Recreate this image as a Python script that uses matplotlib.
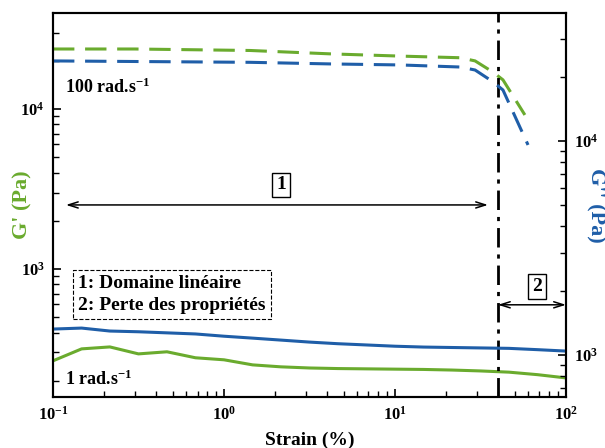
import matplotlib
matplotlib.use('Agg')
import math
import matplotlib.pyplot as plt
from matplotlib.ticker import LogLocator, FuncFormatter, NullFormatter

plt.rcParams['font.family'] = 'Liberation Serif'
plt.rcParams['font.weight'] = 'bold'
plt.rcParams['mathtext.fontset'] = 'custom'
plt.rcParams['mathtext.rm'] = 'Liberation Serif:bold'
plt.rcParams['mathtext.bf'] = 'Liberation Serif:bold'
plt.rcParams['mathtext.it'] = 'Liberation Serif:bold'

bleu = '#1f5ea8'
vert = '#6aab2e'

# 1 rad/s (balayage en deformation)
strain_1 = [0.1, 0.147, 0.215, 0.316, 0.464, 0.681, 1.0, 1.47, 2.15, 3.16,
            4.64, 6.81, 10, 14.7, 21.5, 31.6, 46.4, 68.1, 100]
gp_1 = [266, 316, 325, 294, 303, 278, 270, 251, 244, 240,
        238, 237, 236, 235, 233, 230, 226, 218, 208]
gpp_1 = [1323, 1337, 1295, 1285, 1270, 1255, 1225, 1200, 1175, 1150,
         1130, 1115, 1100, 1090, 1085, 1080, 1075, 1060, 1044]

# 100 rad/s
strain_100_gp = [0.1, 0.3, 1.42, 4.17, 10.7, 24, 29.4, 37.4, 42.8, 57.5]
gp_100 = [23700, 23700, 23200, 22100, 21400, 20900, 19970, 17000, 15200, 9170]
strain_100_gpp = [0.1, 1.42, 4.17, 10.7, 24, 29.4, 37.4, 42.8, 60]
gpp_100 = [23650, 23300, 22900, 22650, 22150, 21450, 18900, 17300, 9580]

limite = 40  # fin du domaine lineaire (%)

fig = plt.figure(figsize=(6.05, 4.48), dpi=100)
ax = fig.add_axes([0.0876, 0.1138, 0.8479, 0.8572])
ax2 = ax.twinx()

ax.plot(strain_1, gp_1, color=vert, lw=2.2)
ax.plot(strain_100_gp, gp_100, color=vert, lw=2.2, ls=(0, (7, 3.5)))
ax2.plot(strain_1, gpp_1, color=bleu, lw=2.2)
ax2.plot(strain_100_gpp, gpp_100, color=bleu, lw=2.2, ls=(0, (7, 3.5)))

ax.axvline(limite, color='black', lw=2, ls=(0, (7, 2.5, 1.5, 2.5)))

ax.set_xscale('log')
ax.set_yscale('log')
ax2.set_yscale('log')
ax.set_xlim(0.1, 100)
ax.set_ylim(158, 39800)
ax2.set_ylim(637, 39600)

def fmt(v, pos):
    e = int(round(math.log10(v)))
    return r'$\mathbf{10^{%d}}$' % e

for a in (ax, ax2):
    a.yaxis.set_major_locator(LogLocator(base=10, numticks=10))
    a.yaxis.set_minor_locator(LogLocator(base=10, subs=range(2, 10), numticks=10))
    a.yaxis.set_major_formatter(FuncFormatter(fmt))
    a.yaxis.set_minor_formatter(NullFormatter())
ax.xaxis.set_major_formatter(FuncFormatter(fmt))

ax.tick_params(which='major', direction='in', length=6, width=1.2, labelsize=12, top=False, pad=6)
ax.tick_params(which='minor', direction='in', length=4, width=1, top=False)
ax2.tick_params(which='major', direction='in', length=6, width=1.2, labelsize=12, pad=6)
ax2.tick_params(which='minor', direction='in', length=4, width=1)
for a in (ax, ax2):
    for s in a.spines.values():
        s.set_linewidth(1.5)

ax.set_xlabel('Strain (%)', fontsize=14, fontweight='bold', labelpad=6)
ax.set_ylabel("G' (Pa)", fontsize=16, fontweight='bold', color=vert, va='center')
ax.yaxis.set_label_coords(-0.060, 0.5)
ax2.set_ylabel("G'' (Pa)", fontsize=16, fontweight='bold', color=bleu, rotation=-90, va='center')
ax2.yaxis.set_label_coords(1.057, 0.5)

# annotations
fleche = dict(arrowstyle='<->,head_length=0.7,head_width=0.22', color='black', lw=1.1,
              shrinkA=0, shrinkB=0)
ax.annotate('', xy=(0.119, 2510), xytext=(35, 2510), arrowprops=fleche)
ax.text(2.15, 3350, '1', fontsize=14, ha='center', va='center',
        bbox=dict(boxstyle='square,pad=0.2', fc='white', ec='black', lw=1))
ax.annotate('', xy=(limite, 596), xytext=(100, 596), arrowprops=fleche)
ax.text(67.6, 772, '2', fontsize=14, ha='center', va='center',
        bbox=dict(boxstyle='square,pad=0.2', fc='white', ec='black', lw=1))

ax.text(0.118, 13600, r'100 rad.s$^{\mathbf{-1}}$', fontsize=13, va='center')
ax.text(0.118, 203, r'1 rad.s$^{\mathbf{-1}}$', fontsize=13, va='center')

ax.text(0.14, 690, '1: Domaine linéaire\n2: Perte des propriétés', fontsize=14,
        va='center', linespacing=1.35,
        bbox=dict(boxstyle='square,pad=0.28', fc='white', ec='black', lw=0.8, ls='--'))

fig.savefig('out.png', dpi=100)
